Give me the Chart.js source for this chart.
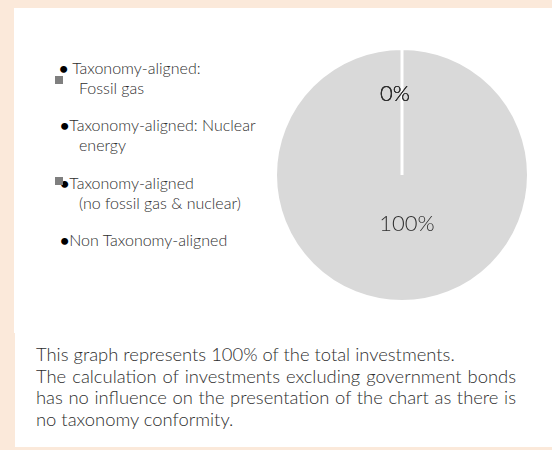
<!DOCTYPE html>
<html>
<head>
<meta charset="utf-8">
<script src="https://cdn.jsdelivr.net/npm/chart.js@4"></script>
<style>
	body { margin:0; width:552px; height:450px; background:#fbe9da; position:relative; overflow:hidden; font-family:Lato, sans-serif; font-weight:300; color:#2e2e2e; }
	.panel { position:absolute; background:#fff; }
	.lg { position:absolute; font-size:16px; line-height:20px; white-space:nowrap; }
	.lg b { color:#000; font-weight:700; }
	.sq { position:absolute; width:8px; height:8px; background:#7f7f7f; }
	.note { position:absolute; left:36px; top:344px; width:480px; font-size:18.4px; line-height:21.7px; text-align:justify; }
</style>
</head>
<body>
<div class="panel" style="left:14px; top:8px; width:538px; height:325px;"></div>
<div class="panel" style="left:15px; top:333px; width:537px; height:114px;"></div>
<div id="legend"></div>
<div style="position:absolute; left:274px; top:47px; width:256px; height:256px;"><canvas id="pie" width="256" height="256"></canvas></div>
<div class="note">This graph represents 100% of the total investments.<br>The calculation of investments excluding government bonds has no influence on the presentation of the chart as there is no taxonomy conformity.</div>
<script>
const kategori = [
	['Taxonomy-aligned:', 'Fossil gas'],
	['Taxonomy-aligned: Nuclear', 'energy'],
	['Taxonomy-aligned', '(no fossil gas & nuclear)'],
	['Non Taxonomy-aligned'],
]
const nilai = [0, 0, 0, 100]

const warnaPie = ['#d9d9d9', '#d9d9d9', '#d9d9d9', '#d9d9d9']

// legend ditulis manual, posisinya mengikuti gambar asli
;(a => {
	const top = [58, 115, 173, 230]
	const kotak = [76, null, 177, null]
	kategori.forEach((k, i) => {
		k.forEach((t, j) => {
			const d = document.createElement('div')
			d.className = 'lg'
			d.style.top = (top[i] + j*20) + 'px'
			d.style.left = j ? '79px' : (i ? '60px' : '59px')
			if (!j) {
				const b = document.createElement('b')
				b.textContent = i ? '•' : '• '
				d.appendChild(b)
			}
			d.appendChild(document.createTextNode(t))
			a.appendChild(d)
		})
		if (kotak[i] != null) {
			const s = document.createElement('div')
			s.className = 'sq'
			s.style.left = '55px'
			s.style.top = kotak[i] + 'px'
			a.appendChild(s)
		}
	})
})(document.getElementById('legend'))

const labelPersen = {
	id: 'labelPersen',
	afterDatasetsDraw(chart, args, opts) {
		const ctx = chart.ctx
		const total = nilai.reduce((a,b)=>a+b,0)
		ctx.save()
		ctx.font = '300 22px Lato'
		ctx.fillStyle = '#2e2e2e'
		ctx.textAlign = 'center'
		ctx.textBaseline = 'middle'
		chart.getDatasetMeta(0).data.forEach((arc, i) => {
			const p = arc.getProps(['x','y','startAngle','endAngle','outerRadius'], true)
			const mid = (p.startAngle + p.endAngle) / 2
			const r = p.outerRadius * opts.jarak[i]
			ctx.fillText(Math.round(nilai[i]/total*100) + '%', p.x + Math.cos(mid)*r + opts.geser[i], p.y + Math.sin(mid)*r)
		})
		ctx.restore()
	}
}

new Chart(document.getElementById('pie'), {
	type: 'pie',
	data: {
		labels: kategori,
		datasets: [{
			data: nilai,
			backgroundColor: warnaPie,
			borderColor: '#fff',
			borderWidth: 3,
		}]
	},
	options: {
		responsive: false,
		animation: false,
		layout: { padding: 0 },
		plugins: {
			legend: { display: false },
			tooltip: { enabled: false },
			labelPersen: { jarak: [0.64, 0.64, 0.64, 0.39], geser: [-7, -7, -7, 5] },
		},
	},
	plugins: [labelPersen],
})
</script>
</body>
</html>
